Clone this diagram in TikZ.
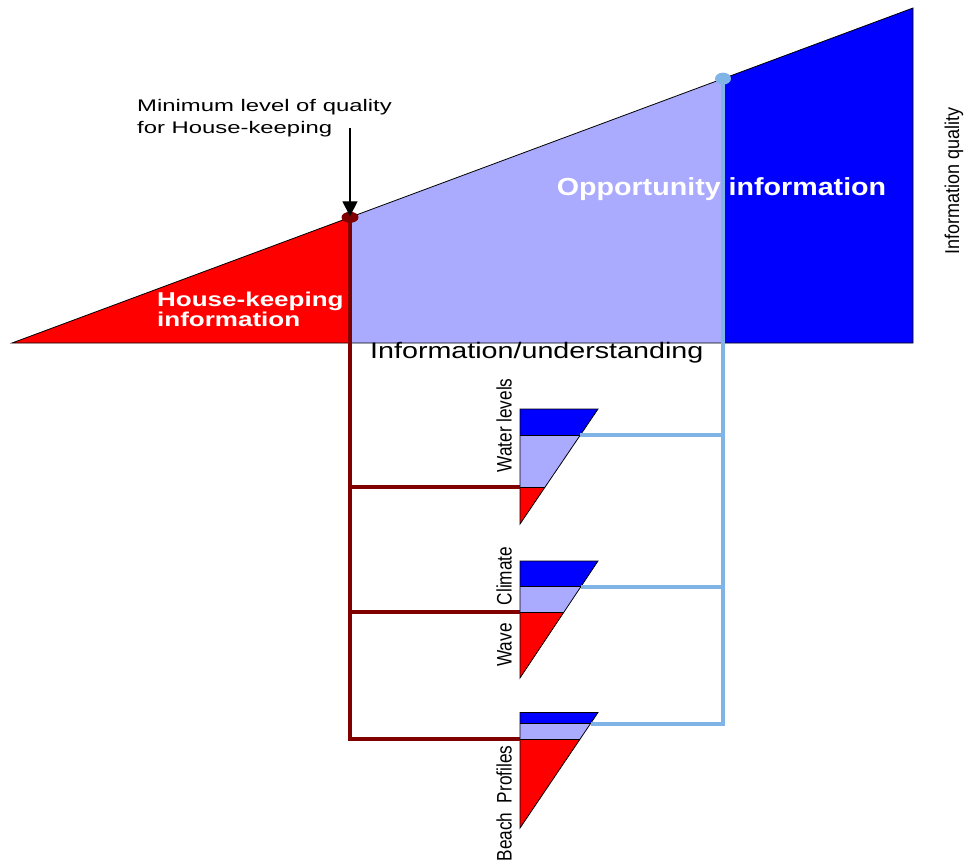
\documentclass[tikz,border=0pt]{standalone}
\usepackage{fontspec}
\setmainfont{Liberation Sans}
\usetikzlibrary{arrows.meta}
% wide and narrow cuts of the same sans face
\newfontfamily\notefont[FakeStretch=1.42]{Liberation Sans}
\newfontfamily\axisfont[FakeStretch=1.28]{Liberation Sans}
\newfontfamily\zonefont[FakeStretch=1.16]{Liberation Sans}
\newfontfamily\hkfont[FakeStretch=1.30]{Liberation Sans}
\newfontfamily\qualfont[FakeStretch=0.90]{Liberation Sans}
\newfontfamily\itemfont[FakeStretch=0.82]{Liberation Sans}

\definecolor{hkred}{RGB}{255,0,0}
\definecolor{midlav}{RGB}{170,170,255}
\definecolor{oppblue}{RGB}{0,0,255}
\definecolor{linkred}{RGB}{128,0,0}
\definecolor{linkblue}{RGB}{128,180,230}

\tikzset{
  edge/.style={draw=black, line width=0.8pt, line join=miter},
  hkline/.style={draw=linkred, line width=4pt, line join=miter},
  opline/.style={draw=linkblue, line width=4pt, line join=miter},
  txt/.style={inner sep=0pt},
  itemlabel/.style={txt, rotate=90, anchor=base, font=\itemfont\fontsize{21}{21}\selectfont},
}

\begin{document}
\begin{tikzpicture}[x=1pt, y=-1pt]
\useasboundingbox (0,0) rectangle (968,864);

% main wedge: house-keeping / intermediate / opportunity bands
\coordinate (apex) at (12,343);
\coordinate (hk) at (350,217.33);
\coordinate (op) at (723,78.64);
\coordinate (peak) at (913,8);
\fill[hkred] (apex) -- (hk) -- (hk |- apex) -- cycle;
\fill[midlav] (hk |- apex) -- (hk) -- (op) -- (op |- apex) -- cycle;
\fill[oppblue] (op |- apex) -- (op) -- (peak) -- (peak |- apex) -- cycle;
\draw[edge] (apex) -- (peak) -- (peak |- apex) -- cycle;

% small wedges, one per data set
\foreach \nm/\T/\bA/\bB/\B in {wl/409/435/487/524, cw/561/586.5/612/678, bp/712.5/723.5/739/828} {
  \pgfmathsetmacro\xA{598-78*(\bA-\T)/(\B-\T)}
  \pgfmathsetmacro\xB{598-78*(\bB-\T)/(\B-\T)}
  \fill[oppblue] (520,\T) -- (598,\T) -- (\xA,\bA) -- (520,\bA) -- cycle;
  \fill[midlav] (520,\bA) -- (\xA,\bA) -- (\xB,\bB) -- (520,\bB) -- cycle;
  \fill[hkred] (520,\bB) -- (\xB,\bB) -- (520,\B) -- cycle;
  \draw[edge] (520,\B) -- (520,\T) -- (598,\T) -- cycle;
  \draw[edge] (520,\bA) -- (\xA,\bA);
  \draw[edge] (520,\bB) -- (\xB,\bB);
  \coordinate (\nm-out) at (\xA,\bA);
  \coordinate (\nm-in) at (520,\bB);
}

% connectors from the quality thresholds to each data set
\draw[hkline] (hk) -- (hk |- bp-in) -- (bp-in);
\foreach \nm in {wl,cw} \draw[hkline] (hk |- \nm-in) -- (\nm-in);
\draw[opline] (op) -- (op |- bp-out) -- (bp-out);
\foreach \nm in {wl,cw} \draw[opline] (\nm-out) -- (op |- \nm-out);

\fill[linkred] (hk) ellipse [x radius=8.5, y radius=5.5];
\fill[linkblue] (op) ellipse [x radius=8, y radius=6];

% threshold note and its arrow (base anchor sits on the last line)
\node[txt, anchor=base west, align=left, font=\notefont\fontsize{16.8}{22}\selectfont] (note) at (137,133)
  {Minimum level of quality\\for House-keeping};
\coordinate (notefoot) at (350,128);
\draw[line width=1.3pt, -{Triangle[length=15pt, width=15pt]}] (notefoot) -- ([yshift=1pt]hk);

% band and axis labels
\node[txt, anchor=base west, align=left, text=white, font=\hkfont\bfseries\fontsize{20}{20}\selectfont] (hklabel) at (157,326.7)
  {House-keeping\\information};
\node[txt, anchor=base, text=white, font=\zonefont\bfseries\fontsize{24.7}{25}\selectfont] (oplabel) at (721.5,195)
  {Opportunity information};
\node[txt, anchor=base west, font=\axisfont\fontsize{22.4}{22}\selectfont] (xaxis) at (370,358)
  {Information/understanding};
\node[txt, rotate=90, anchor=base, font=\qualfont\fontsize{20}{20}\selectfont] (yaxis) at (959,181)
  {Information quality};

\node[itemlabel] (wllabel) at (511.7,425.5) {Water levels};
\node[itemlabel] (cllabel) at (511.7,576) {Climate};
\node[itemlabel] (wvlabel) at (511.7,645) {Wave};
\node[itemlabel] (bplabel) at (511.7,803.5) {Beach\ \ Profiles};
\end{tikzpicture}
\end{document}
